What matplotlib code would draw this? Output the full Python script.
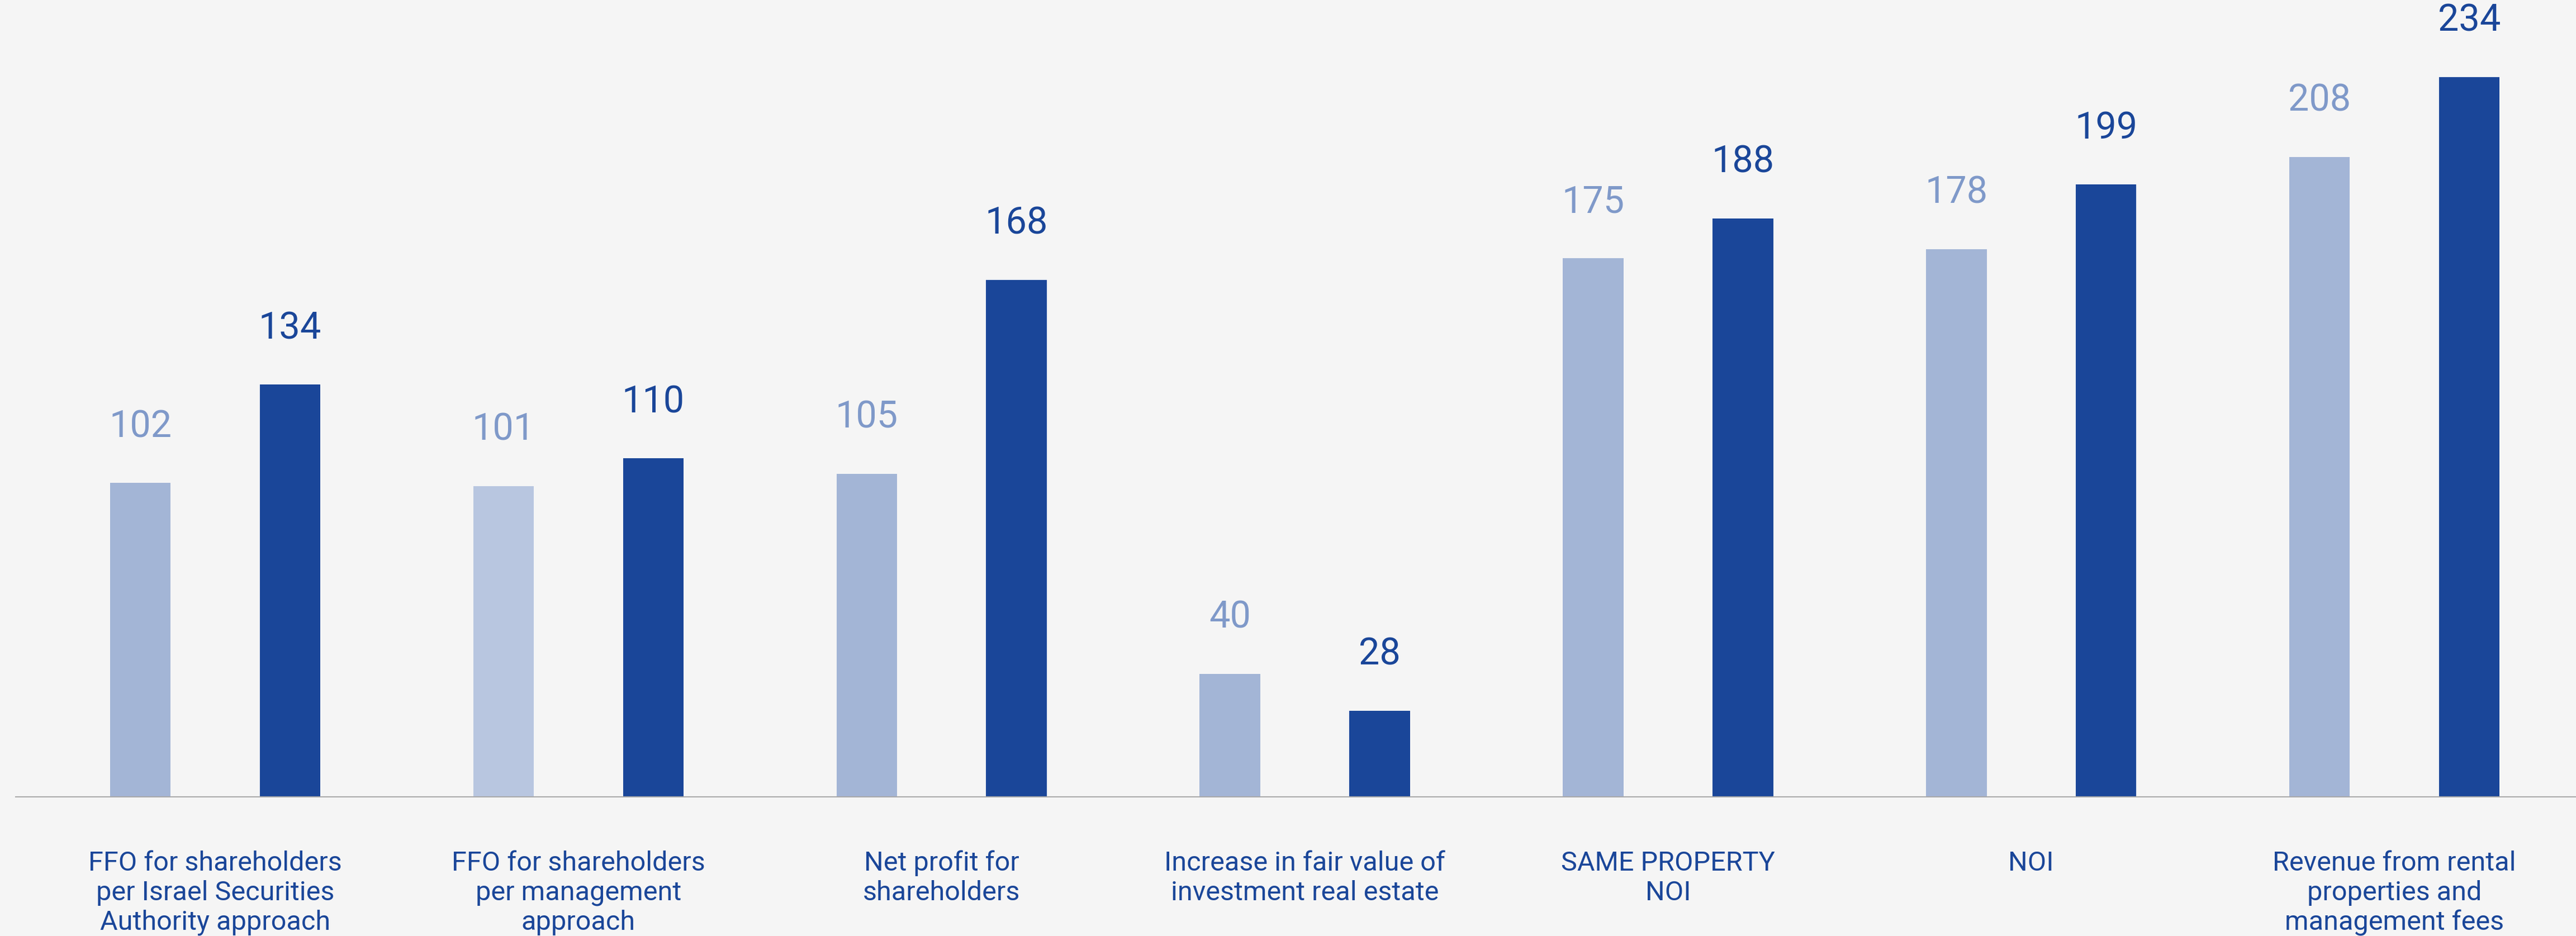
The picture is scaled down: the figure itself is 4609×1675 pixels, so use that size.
import numpy as np
import matplotlib.pyplot as plt

plt.rcParams['font.family'] = ['Roboto', 'DejaVu Sans']

# data
categories = [
    "FFO for shareholders\nper Israel Securities\nAuthority approach",
    "FFO for shareholders\nper management\napproach",
    "Net profit for\nshareholders",
    "Increase in fair value of\ninvestment real estate",
    "SAME PROPERTY\nNOI",
    "NOI",
    "Revenue from rental\nproperties and\nmanagement fees",
]
previous = [102, 101, 105, 40, 175, 178, 208]
current = [134, 110, 168, 28, 188, 199, 234]

bg = '#f5f5f5'
dark = '#1a4699'
light_bars = ['#a3b5d6', '#b8c6e0', '#a3b5d6', '#a3b5d6', '#a3b5d6', '#a3b5d6', '#a3b5d6']
light_text = '#7f99c9'

fig = plt.figure(figsize=(46.09, 16.75), dpi=100, facecolor=bg)
ax = fig.add_axes([0.006, 0.1487, 0.994, 0.8513], facecolor=bg)

x = np.arange(len(categories))
w = 0.167
off = 0.206

b1 = ax.bar(x - off, previous, width=w, color=light_bars)
b2 = ax.bar(x + off, current, width=w, color=dark)

for rect, v in zip(b1, previous):
    ax.annotate(str(v), (rect.get_x() + rect.get_width() / 2, v),
                xytext=(0, 49), textcoords='offset points',
                ha='center', va='bottom', fontsize=48, color=light_text)
for rect, v in zip(b2, current):
    ax.annotate(str(v), (rect.get_x() + rect.get_width() / 2, v),
                xytext=(0, 49), textcoords='offset points',
                ha='center', va='bottom', fontsize=48, color=dark)

ax.set_xlim(-0.55, 6.5)
ax.set_ylim(0, 259)
ax.set_xticks(x, categories, fontsize=35, color=dark, linespacing=1.19)
ax.tick_params(axis='x', length=0, pad=69)
ax.set_yticks([])

for s in ['top', 'right', 'left']:
    ax.spines[s].set_visible(False)
ax.spines['bottom'].set_color('#aaaaaa')
ax.spines['bottom'].set_linewidth(1.5)

fig.savefig('out.png', dpi=100, facecolor=bg)
